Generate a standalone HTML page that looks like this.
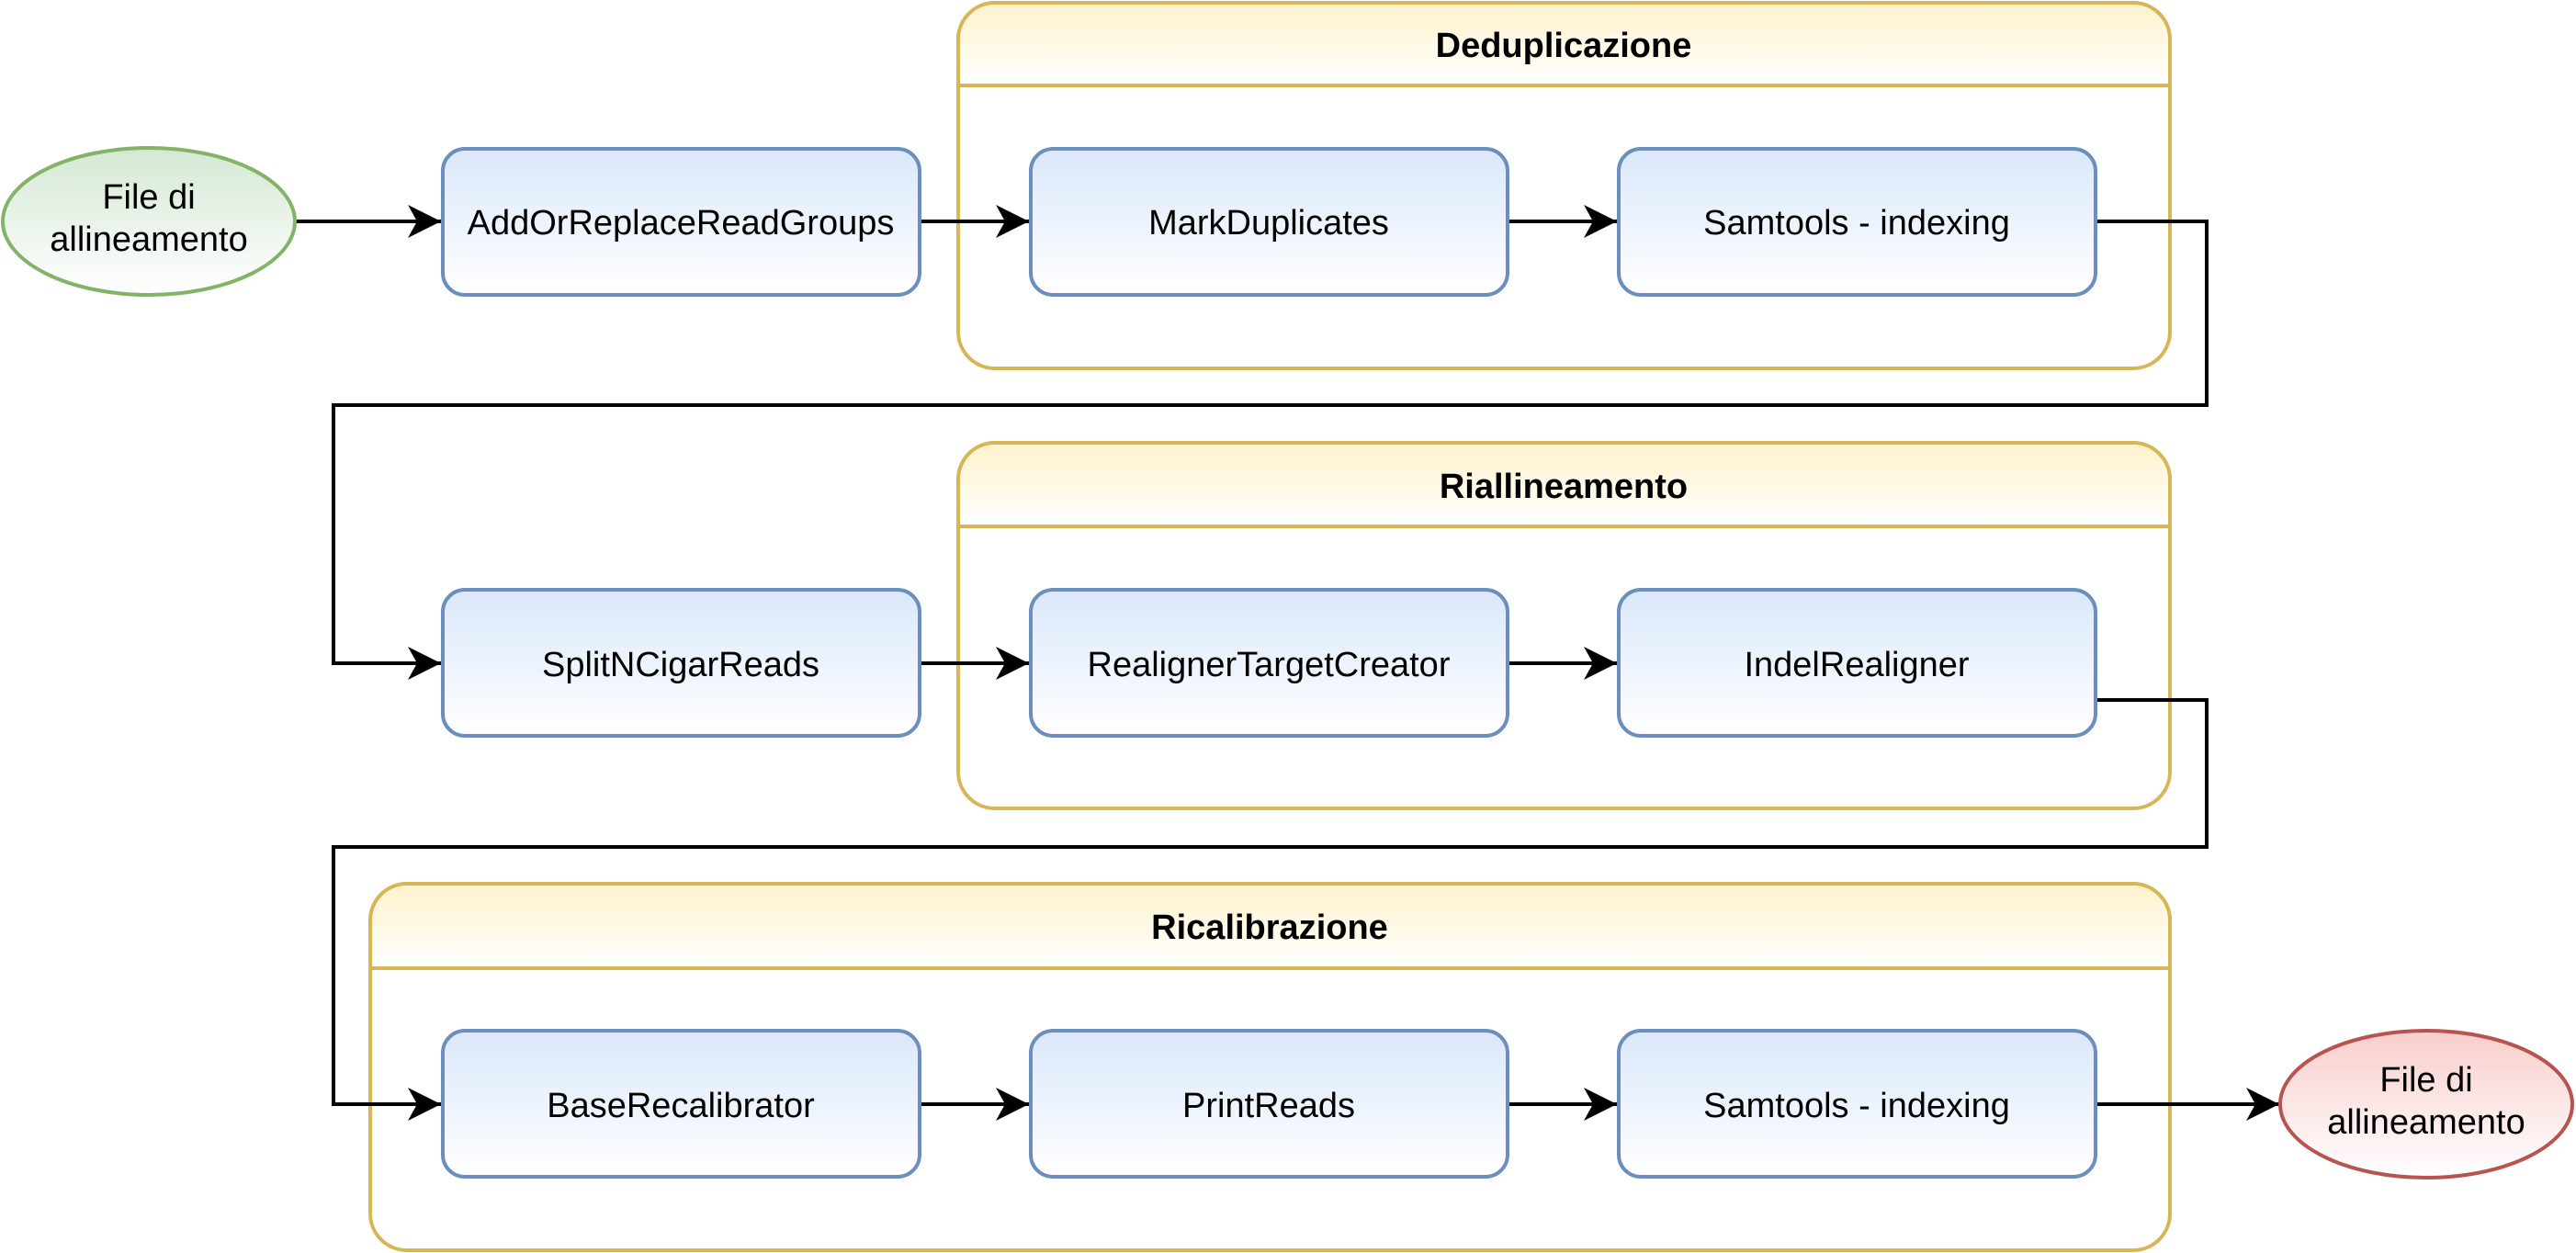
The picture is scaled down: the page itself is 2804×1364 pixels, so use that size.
<!DOCTYPE html>
<html><head><meta charset="utf-8"><style>html,body{margin:0;padding:0;background:#fff}svg{display:block}</style></head>
<body>
<svg width="2804" height="1364" viewBox="0 0 2804 1364" xmlns="http://www.w3.org/2000/svg" font-family="Liberation Sans, Arial, sans-serif">
<defs>
<linearGradient id="bl" x1="0" y1="0" x2="0" y2="1"><stop offset="0" stop-color="#dae8fc"/><stop offset="1" stop-color="#ffffff"/></linearGradient>
<linearGradient id="yl" x1="0" y1="0" x2="0" y2="1"><stop offset="0" stop-color="#fff2cc"/><stop offset="1" stop-color="#ffffff"/></linearGradient>
<linearGradient id="gr" x1="0" y1="0" x2="0" y2="1"><stop offset="0" stop-color="#d5e8d4"/><stop offset="1" stop-color="#ffffff"/></linearGradient>
<linearGradient id="rd" x1="0" y1="0" x2="0" y2="1"><stop offset="0" stop-color="#f8cecc"/><stop offset="1" stop-color="#ffffff"/></linearGradient>
<marker id="ar" markerUnits="userSpaceOnUse" markerWidth="40" markerHeight="40" refX="36" refY="18" orient="auto"><path d="M0,0 L36,18 L0,36 L10,18 Z" fill="#000"/></marker>
</defs>

<!-- containers -->
<g stroke="#d6b656" stroke-width="4">
<rect x="1043" y="3" width="1319" height="398" rx="40" fill="#fff"/>
<path d="M1043,93 V43 A40,40 0 0 1 1083,3 H2322 A40,40 0 0 1 2362,43 V93 Z" fill="url(#yl)"/>
<rect x="1043" y="482" width="1319" height="398" rx="40" fill="#fff"/>
<path d="M1043,573 V522 A40,40 0 0 1 1083,482 H2322 A40,40 0 0 1 2362,522 V573 Z" fill="url(#yl)"/>
<rect x="403" y="962" width="1959" height="399" rx="40" fill="#fff"/>
<path d="M403,1054 V1002 A40,40 0 0 1 443,962 H2322 A40,40 0 0 1 2362,1002 V1054 Z" fill="url(#yl)"/>
</g>
<g font-weight="bold" font-size="38" text-anchor="middle" fill="#000">
<text x="1702" y="62">Deduplicazione</text>
<text x="1702" y="542">Riallineamento</text>
<text x="1382" y="1022">Ricalibrazione</text>
</g>

<!-- connectors -->
<g stroke="#000" stroke-width="4" fill="none" marker-end="url(#ar)">
<line x1="322" y1="241" x2="480" y2="241"/>
<line x1="1001" y1="241" x2="1120" y2="241"/>
<line x1="1641" y1="241" x2="1760" y2="241"/>
<polyline points="2281,241 2402,241 2402,441 363,441 363,722 480,722"/>
<line x1="1001" y1="722" x2="1120" y2="722"/>
<line x1="1641" y1="722" x2="1760" y2="722"/>
<polyline points="2281,722 2281,762 2402,762 2402,922 363,922 363,1202 480,1202"/>
<line x1="1001" y1="1202" x2="1120" y2="1202"/>
<line x1="1641" y1="1202" x2="1760" y2="1202"/>
<line x1="2281" y1="1202" x2="2481" y2="1202"/>
</g>

<!-- boxes -->
<g stroke="#6c8ebf" stroke-width="4" fill="url(#bl)">
<rect x="482" y="162" width="519" height="159" rx="24"/>
<rect x="1122" y="162" width="519" height="159" rx="24"/>
<rect x="1762" y="162" width="519" height="159" rx="24"/>
<rect x="482" y="642" width="519" height="159" rx="24"/>
<rect x="1122" y="642" width="519" height="159" rx="24"/>
<rect x="1762" y="642" width="519" height="159" rx="24"/>
<rect x="482" y="1122" width="519" height="159" rx="24"/>
<rect x="1122" y="1122" width="519" height="159" rx="24"/>
<rect x="1762" y="1122" width="519" height="159" rx="24"/>
</g>
<ellipse cx="162" cy="241" rx="159" ry="80" fill="url(#gr)" stroke="#82b366" stroke-width="4"/>
<ellipse cx="2641" cy="1202" rx="159" ry="80" fill="url(#rd)" stroke="#b85450" stroke-width="4"/>

<g font-size="38" text-anchor="middle" fill="#000">
<text x="741" y="255">AddOrReplaceReadGroups</text>
<text x="1381" y="255">MarkDuplicates</text>
<text x="2021" y="255">Samtools - indexing</text>
<text x="741" y="736">SplitNCigarReads</text>
<text x="1381" y="736">RealignerTargetCreator</text>
<text x="2021" y="736">IndelRealigner</text>
<text x="741" y="1216">BaseRecalibrator</text>
<text x="1381" y="1216">PrintReads</text>
<text x="2021" y="1216">Samtools - indexing</text>
<text x="162" y="227">File di</text>
<text x="162" y="273">allineamento</text>
<text x="2641" y="1188">File di</text>
<text x="2641" y="1234">allineamento</text>
</g>
</svg>
</body></html>
